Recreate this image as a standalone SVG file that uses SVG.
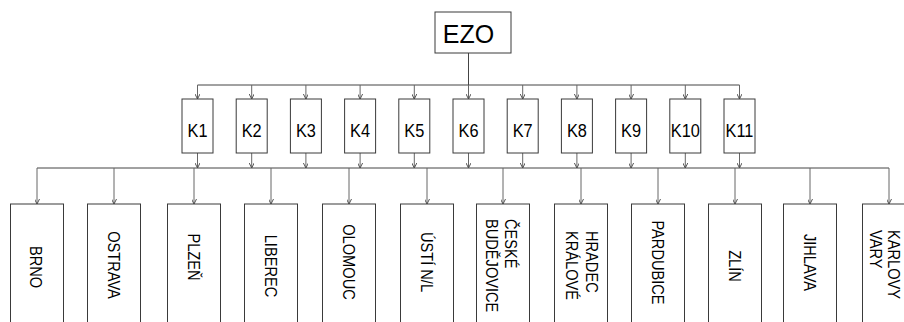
<svg xmlns="http://www.w3.org/2000/svg" width="904" height="322" viewBox="0 0 904 322">
<style>
.box{fill:#fff;stroke:#3a3a3a;stroke-width:1}
.t{font-family:"Liberation Sans",Arial,sans-serif;fill:#000}
.ezo{font-size:25px;text-anchor:middle}
.k{font-size:19px;text-anchor:middle}
.c{font-size:17px}
.m{text-anchor:middle}
.bus{fill:none;stroke:#444;stroke-width:1}
.ar{fill:none;stroke:#666;stroke-width:1;marker-end:url(#ah)}
</style>
<defs>
<marker id="ah" viewBox="0 0 10 10" refX="10" refY="5" markerWidth="5" markerHeight="5" markerUnits="userSpaceOnUse" orient="auto">
<path d="M0,0 L10,5 L0,10" fill="none" stroke="#555" stroke-width="2"/>
</marker>
</defs>
<rect width="904" height="322" fill="#fff"/>
<g id="connectors">
<line class="bus" x1="468.5" y1="53" x2="468.5" y2="85"/>
<line class="bus" x1="197.5" y1="85" x2="739.5" y2="85"/>
<line class="ar" x1="197.5" y1="85" x2="197.5" y2="99"/>
<line class="ar" x1="251.7" y1="85" x2="251.7" y2="99"/>
<line class="ar" x1="305.9" y1="85" x2="305.9" y2="99"/>
<line class="ar" x1="360.1" y1="85" x2="360.1" y2="99"/>
<line class="ar" x1="414.3" y1="85" x2="414.3" y2="99"/>
<line class="ar" x1="468.5" y1="85" x2="468.5" y2="99"/>
<line class="ar" x1="522.7" y1="85" x2="522.7" y2="99"/>
<line class="ar" x1="576.9" y1="85" x2="576.9" y2="99"/>
<line class="ar" x1="631.1" y1="85" x2="631.1" y2="99"/>
<line class="ar" x1="685.3" y1="85" x2="685.3" y2="99"/>
<line class="ar" x1="739.5" y1="85" x2="739.5" y2="99"/>
<line class="ar" x1="197.5" y1="153" x2="197.5" y2="168"/>
<line class="ar" x1="251.7" y1="153" x2="251.7" y2="168"/>
<line class="ar" x1="305.9" y1="153" x2="305.9" y2="168"/>
<line class="ar" x1="360.1" y1="153" x2="360.1" y2="168"/>
<line class="ar" x1="414.3" y1="153" x2="414.3" y2="168"/>
<line class="ar" x1="468.5" y1="153" x2="468.5" y2="168"/>
<line class="ar" x1="522.7" y1="153" x2="522.7" y2="168"/>
<line class="ar" x1="576.9" y1="153" x2="576.9" y2="168"/>
<line class="ar" x1="631.1" y1="153" x2="631.1" y2="168"/>
<line class="ar" x1="685.3" y1="153" x2="685.3" y2="168"/>
<line class="ar" x1="739.5" y1="153" x2="739.5" y2="168"/>
<line class="bus" x1="37" y1="168" x2="889" y2="168"/>
<line class="ar" x1="37" y1="168" x2="37" y2="204"/>
<line class="ar" x1="114" y1="168" x2="114" y2="204"/>
<line class="ar" x1="194" y1="168" x2="194" y2="204"/>
<line class="ar" x1="271" y1="168" x2="271" y2="204"/>
<line class="ar" x1="349" y1="168" x2="349" y2="204"/>
<line class="ar" x1="427" y1="168" x2="427" y2="204"/>
<line class="ar" x1="503" y1="168" x2="503" y2="204"/>
<line class="ar" x1="581" y1="168" x2="581" y2="204"/>
<line class="ar" x1="658" y1="168" x2="658" y2="204"/>
<line class="ar" x1="735" y1="168" x2="735" y2="204"/>
<line class="ar" x1="810" y1="168" x2="810" y2="204"/>
<line class="ar" x1="889" y1="168" x2="889" y2="204"/>
</g>
<g id="ezo"><rect class="box" x="435" y="12" width="76" height="41"/><text class="t ezo" x="468.5" y="42.5">EZO</text></g>
<g id="k1"><rect class="box" x="182" y="99" width="31" height="54"/><text class="t k" transform="translate(197.5,136.5) scale(0.86,1)">K1</text></g>
<g id="k2"><rect class="box" x="236.2" y="99" width="31" height="54"/><text class="t k" transform="translate(251.7,136.5) scale(0.86,1)">K2</text></g>
<g id="k3"><rect class="box" x="290.4" y="99" width="31" height="54"/><text class="t k" transform="translate(305.9,136.5) scale(0.86,1)">K3</text></g>
<g id="k4"><rect class="box" x="344.6" y="99" width="31" height="54"/><text class="t k" transform="translate(360.1,136.5) scale(0.86,1)">K4</text></g>
<g id="k5"><rect class="box" x="398.8" y="99" width="31" height="54"/><text class="t k" transform="translate(414.3,136.5) scale(0.86,1)">K5</text></g>
<g id="k6"><rect class="box" x="453" y="99" width="31" height="54"/><text class="t k" transform="translate(468.5,136.5) scale(0.86,1)">K6</text></g>
<g id="k7"><rect class="box" x="507.2" y="99" width="31" height="54"/><text class="t k" transform="translate(522.7,136.5) scale(0.86,1)">K7</text></g>
<g id="k8"><rect class="box" x="561.4" y="99" width="31" height="54"/><text class="t k" transform="translate(576.9,136.5) scale(0.86,1)">K8</text></g>
<g id="k9"><rect class="box" x="615.6" y="99" width="31" height="54"/><text class="t k" transform="translate(631.1,136.5) scale(0.86,1)">K9</text></g>
<g id="k10"><rect class="box" x="669.8" y="99" width="31" height="54"/><text class="t k" transform="translate(685.3,136.5) scale(0.86,1)">K10</text></g>
<g id="k11"><rect class="box" x="724" y="99" width="31" height="54"/><text class="t k" transform="translate(739.5,136.5) scale(0.86,1)">K11</text></g>
<g id="brno"><rect class="box" x="10.5" y="204" width="53" height="130"/><text class="t c m" transform="translate(36,267) rotate(90) scale(0.86,1)" y="6">BRNO</text></g>
<g id="ostrava"><rect class="box" x="87.5" y="204" width="53" height="130"/><text class="t c m" transform="translate(114,265) rotate(90) scale(0.86,1)" y="6">OSTRAVA</text></g>
<g id="plzen"><rect class="box" x="167.5" y="204" width="53" height="130"/><text class="t c m" transform="translate(194,257) rotate(90) scale(0.86,1)" y="6">PLZEŇ</text></g>
<g id="liberec"><rect class="box" x="244.5" y="204" width="53" height="130"/><text class="t c m" transform="translate(271,266) rotate(90) scale(0.86,1)" y="6">LIBEREC</text></g>
<g id="olomouc"><rect class="box" x="322.5" y="204" width="53" height="130"/><text class="t c m" transform="translate(349,262) rotate(90) scale(0.86,1)" y="6">OLOMOUC</text></g>
<g id="usti"><rect class="box" x="400.5" y="204" width="53" height="130"/><text class="t c m" transform="translate(427,262) rotate(90) scale(0.86,1)" y="6">ÚSTÍ N/L</text></g>
<g id="ceske"><rect class="box" x="476.5" y="204" width="53" height="130"/><text class="t c" transform="translate(503,219) rotate(90) scale(0.86,1)"><tspan x="0" y="-2">ČESKÉ</tspan><tspan x="0" y="17">BUDĚJOVICE</tspan></text></g>
<g id="hradec"><rect class="box" x="554.5" y="204" width="53" height="130"/><text class="t c" transform="translate(581,231) rotate(90) scale(0.86,1)"><tspan x="0" y="-5">HRADEC</tspan><tspan x="0" y="15">KRÁLOVÉ</tspan></text></g>
<g id="pardubice"><rect class="box" x="631.5" y="204" width="53" height="130"/><text class="t c m" transform="translate(658,262.5) rotate(90) scale(0.86,1)" y="6">PARDUBICE</text></g>
<g id="zlin"><rect class="box" x="708.5" y="204" width="53" height="130"/><text class="t c m" transform="translate(735,266) rotate(90) scale(0.86,1)" y="6">ZLÍN</text></g>
<g id="jihlava"><rect class="box" x="783.5" y="204" width="53" height="130"/><text class="t c m" transform="translate(810,262.5) rotate(90) scale(0.86,1)" y="6">JIHLAVA</text></g>
<g id="karlovy"><rect class="box" x="862.5" y="204" width="53" height="130"/><text class="t c" transform="translate(889,230) rotate(90) scale(0.86,1)"><tspan x="0" y="1">KARLOVY</tspan><tspan x="0" y="19">VARY</tspan></text></g>
</svg>
